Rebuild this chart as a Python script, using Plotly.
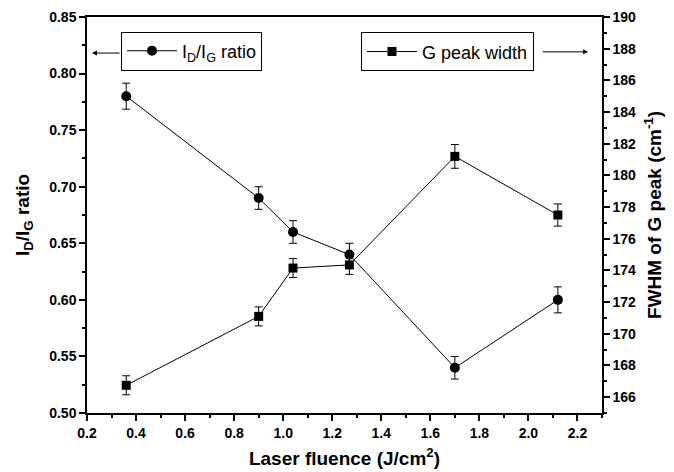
import plotly.graph_objects as go

fluence = [0.36, 0.90, 1.04, 1.27, 1.70, 2.12]
ratio = [0.78, 0.69, 0.66, 0.64, 0.54, 0.60]
ratio_err = [0.0115, 0.010, 0.010, 0.010, 0.010, 0.0115]
gwidth = [166.75, 171.1, 174.15, 174.35, 181.2, 177.5]
gwidth_err = [0.6, 0.6, 0.6, 0.6, 0.75, 0.7]

FONT = "Liberation Sans, Arial, sans-serif"

fig = go.Figure()
fig.add_trace(go.Scatter(
    x=fluence, y=ratio, mode="lines+markers", name="I<sub>D</sub>/I<sub>G</sub> ratio",
    line=dict(color="black", width=1),
    marker=dict(symbol="circle", size=10, color="black"),
    error_y=dict(type="data", array=ratio_err, color="black", thickness=1, width=4),
    legend="legend", showlegend=True))
fig.add_trace(go.Scatter(
    x=fluence, y=gwidth, mode="lines+markers", name="G peak width", yaxis="y2",
    line=dict(color="black", width=1),
    marker=dict(symbol="square", size=9, color="black"),
    error_y=dict(type="data", array=gwidth_err, color="black", thickness=1, width=4),
    legend="legend2", showlegend=True))

tickfont = dict(family=FONT, size=14, color="black", weight="bold")
titlefont = dict(family=FONT, size=19, color="black", weight="bold")

fig.update_layout(
    width=674, height=472,
    showlegend=True,
    margin=dict(l=87, r=72, t=17, b=59),
    paper_bgcolor="white", plot_bgcolor="white",
    font=dict(family=FONT, color="black"),
    xaxis=dict(range=[0.2, 2.3], tick0=0.2, dtick=0.2, tickformat=".1f", automargin=False,
               ticks="outside", ticklen=6, tickwidth=1.5, tickcolor="black",
               minor=dict(dtick=0.1, ticks="outside", ticklen=3, tickcolor="black", tickwidth=1.5),
               showline=True, linecolor="black", linewidth=1.5, mirror=True,
               showgrid=False, zeroline=False, tickfont=tickfont,
               title=dict(text="Laser fluence (J/cm<sup>2</sup>)", font=titlefont, standoff=12)),
    yaxis=dict(range=[0.5, 0.85], dtick=0.05, tickformat=".2f", automargin=False,
               ticks="outside", ticklen=6, tickwidth=1.5, tickcolor="black",
               minor=dict(dtick=0.025, ticks="outside", ticklen=3, tickcolor="black", tickwidth=1.5),
               showline=True, linecolor="black", linewidth=1.5,
               showgrid=False, zeroline=False, tickfont=tickfont,
               title=dict(text="I<sub>D</sub>/I<sub>G</sub> ratio", font=titlefont, standoff=15)),
    yaxis2=dict(range=[165, 190], dtick=2, tick0=166, overlaying="y", side="right", automargin=False,
                ticks="outside", ticklen=6, tickwidth=1.5, tickcolor="black",
                minor=dict(dtick=1, ticks="outside", ticklen=3, tickcolor="black", tickwidth=1.5),
                showline=True, linecolor="black", linewidth=1.5,
                showgrid=False, zeroline=False, tickfont=tickfont,
                title=dict(text="FWHM of G peak (cm<sup>-1</sup>)", font=titlefont, standoff=13)),
    legend=dict(x=0.066, y=0.914, xanchor="left", yanchor="middle",
                bordercolor="black", borderwidth=1, bgcolor="white",
                font=dict(family=FONT, size=18, color="black"), itemwidth=50),
    legend2=dict(x=0.532, y=0.912, xanchor="left", yanchor="middle",
                 bordercolor="black", borderwidth=1, bgcolor="white",
                 font=dict(family=FONT, size=18, color="black"), itemwidth=50),
    annotations=[
        dict(x=0.0097, y=0.909, xref="paper", yref="paper", ax=29, ay=0,
             axref="pixel", ayref="pixel", text="", showarrow=True,
             arrowhead=2, arrowsize=1, arrowwidth=1, arrowcolor="black"),
        dict(x=0.973, y=0.912, xref="paper", yref="paper", ax=-47, ay=0,
             axref="pixel", ayref="pixel", text="", showarrow=True,
             arrowhead=2, arrowsize=1, arrowwidth=1, arrowcolor="black"),
    ],
)

fig.write_html("out.html")
